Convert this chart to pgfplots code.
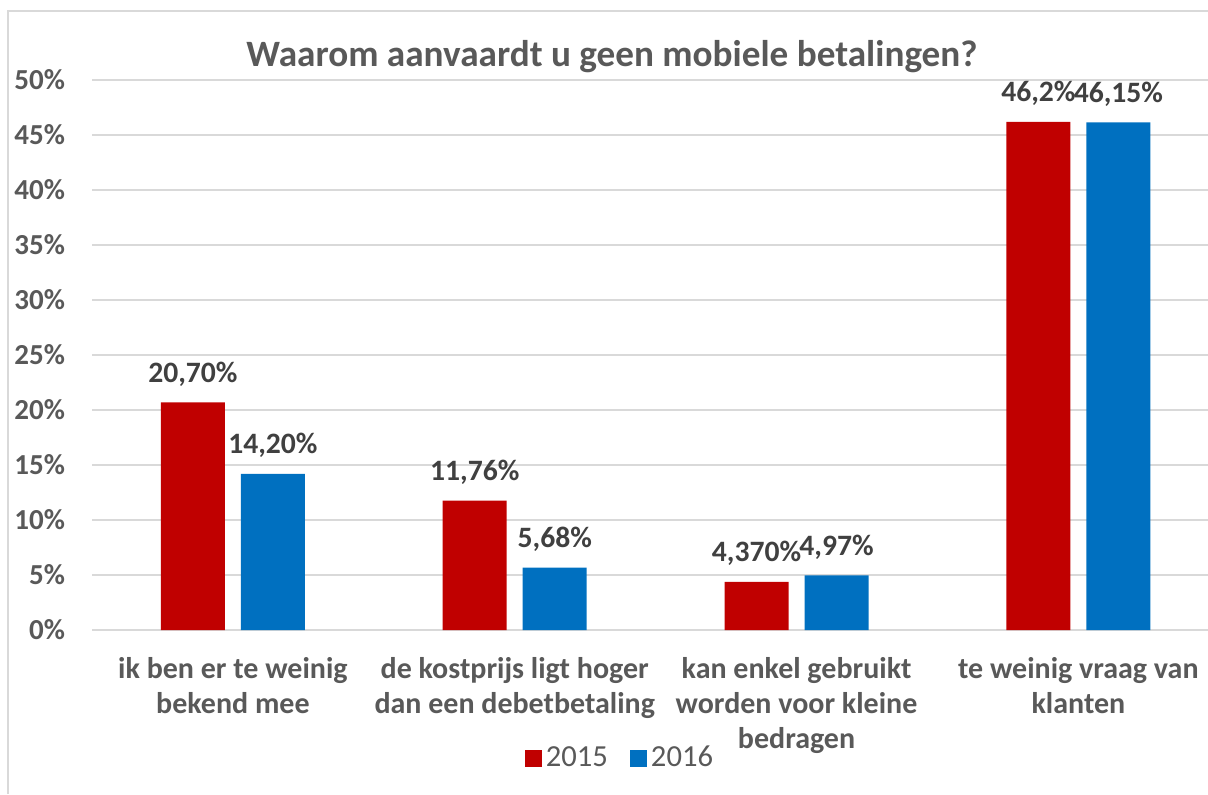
\documentclass[border=0pt]{standalone}
\usepackage{pgfplots}
\pgfplotsset{compat=1.18}
\usepackage{pgfplotstable}
\usepackage{fontspec}
\setmainfont{Carlito}
\definecolor{red15}{HTML}{C00000}
\definecolor{blue16}{HTML}{0070C0}
\definecolor{txt}{HTML}{595959}
\definecolor{dtxt}{HTML}{404040}
\definecolor{gridc}{HTML}{D9D9D9}
\pgfplotstableread{
x y lab
0 20.70 {20,70\%}
1 11.76 {11,76\%}
2 4.37 {4,370\%}
3 46.2 {46,2\%}
}\dataA
\pgfplotstableread{
x y lab
0 14.20 {14,20\%}
1 5.68 {5,68\%}
2 4.97 {4,97\%}
3 46.15 {46,15\%}
}\dataB
\begin{document}
\begin{tikzpicture}[x=0.5pt,y=0.5pt]
\useasboundingbox (0,0) rectangle (1208,794);
\draw[gridc,line width=1pt] (8,0) -- (8,783) -- (1208,783);
\node[anchor=base,txt,font=\bfseries\fontsize{18.6}{22}\selectfont] at (612,727) {Waarom aanvaardt u geen mobiele betalingen?};
\begin{axis}[at={(46pt,82pt)}, anchor=south west, scale only axis,
  width=558pt, height=275pt,
  xmin=-0.5, xmax=3.46, ymin=0, ymax=50,
  axis line style={draw=none}, tick style={draw=none},
  ymajorgrids, major grid style={gridc,line width=0.75pt},
  ytick={0,5,...,50},
  yticklabels={0\%,5\%,10\%,15\%,20\%,25\%,30\%,35\%,40\%,45\%,50\%},
  yticklabel style={txt,font=\bfseries\fontsize{14.5}{16}\selectfont, anchor=east, xshift=-10pt},
  xtick={0,1,2,3},
  xticklabels={{ik ben er te weinig\\bekend mee},{de kostprijs ligt hoger\\dan een debetbetaling},{kan enkel gebruikt\\worden voor kleine\\bedragen},{te weinig vraag van\\klanten}},
  xticklabel style={txt,font=\bfseries\fontsize{15}{17.5}\selectfont, align=center, anchor=north, yshift=-6pt},
  ybar, bar width=32pt,
  nodes near coords, point meta=explicit symbolic,
  nodes near coords style={dtxt,font=\bfseries\fontsize{14.8}{16}\selectfont, anchor=base, yshift=10pt},
  legend style={at={(0.474,-0.233)}, anchor=center, draw=none, legend columns=2,
    font=\fontsize{15.3}{17}\selectfont, text=txt,
    /tikz/every odd column/.append style={column sep=0pt},
    /tikz/every even column/.append style={column sep=9pt}},
  legend image code/.code={\fill[#1] (0pt,-4.25pt) rectangle (8.5pt,4.25pt);},
]
\addplot[fill=red15, draw=none, bar shift=-20pt] table[x=x,y=y,meta=lab] {\dataA};
\addplot[fill=blue16, draw=none, bar shift=20pt] table[x=x,y=y,meta=lab] {\dataB};
\legend{2015,2016}
\end{axis}
\end{tikzpicture}
\end{document}
